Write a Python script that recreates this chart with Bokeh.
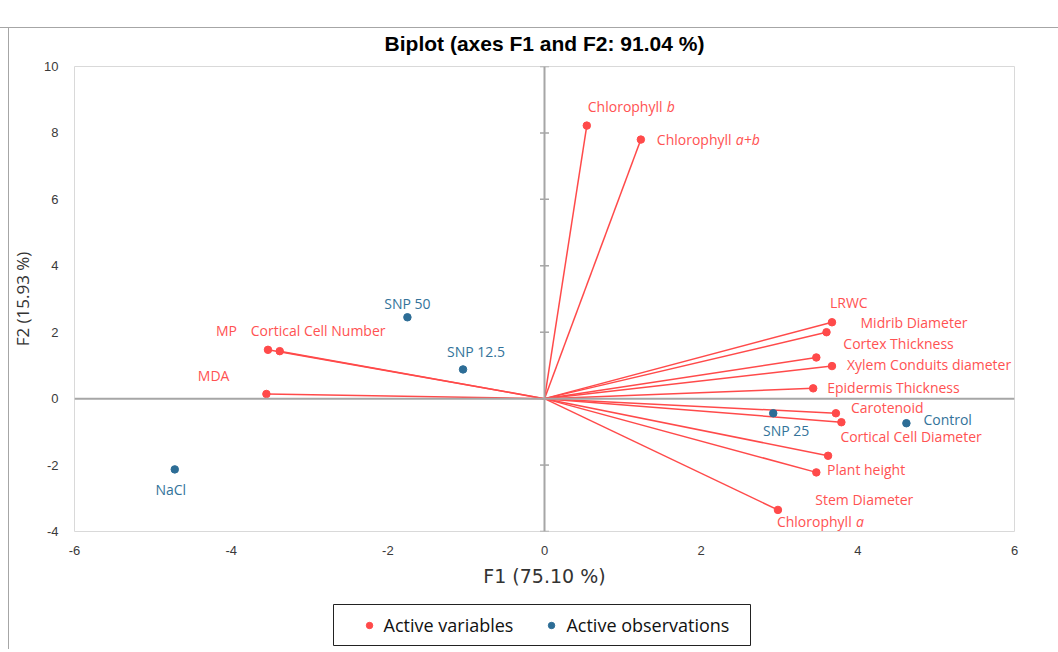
from bokeh.plotting import figure
from bokeh.layouts import column
from bokeh.models import Span, FixedTicker, Legend, LegendItem, ColumnDataSource
from bokeh.core.properties import value
from bokeh.embed import file_html
from bokeh.resources import INLINE

# ---------------- data ----------------
var_names = ["Chlorophyll b", "Chlorophyll a+b", "LRWC", "Midrib Diameter",
             "Cortex Thickness", "Xylem Conduits diameter", "Epidermis Thickness",
             "Carotenoid", "Cortical Cell Diameter", "Plant height", "Stem Diameter",
             "Chlorophyll a", "MP", "Cortical Cell Number", "MDA"]
var_x = [0.54, 1.23, 3.67, 3.60, 3.47, 3.67, 3.43, 3.72, 3.79, 3.62, 3.47, 2.98, -3.53, -3.38, -3.55]
var_y = [8.22, 7.80, 2.30, 2.00, 1.24, 0.98, 0.31, -0.44, -0.71, -1.72, -2.22, -3.35, 1.47, 1.43, 0.14]
var_italic = ["b", "a+b", "", "", "", "", "", "", "", "", "", "a", "", "", ""]

obs_names = ["SNP 50", "SNP 12.5", "NaCl", "SNP 25", "Control"]
obs_x = [-1.75, -1.04, -4.72, 2.92, 4.62]
obs_y = [2.45, 0.88, -2.13, -0.44, -0.74]

x_ticks = [-6, -4, -2, 0, 2, 4, 6]
y_ticks = [-4, -2, 0, 2, 4, 6, 8, 10]

legend_labels = ["Active variables", "Active observations"]

# ---------------- label placement (style) ----------------
var_dx = [1, 16, -2, 34, 27, 15, 14, 15, -1, -1, -1, -1, -31, -29, -37]
var_dy = [-19, 0, -20, -10, -14, -2, -1, -6, 14, 14, 27, 12, -19, -21, -18]
var_align = ["left"] * 12 + ["right", "left", "right"]
obs_dx = [0, 13, -4, 13, 17]
obs_dy = [-14, -18, 20, 17, -4]
obs_align = ["center", "center", "center", "center", "left"]
PREFIX_PX = 79  # approx width of "Chlorophyll " in label font

RED = "#FF4A4A"
RED_TXT = "#FF5252"
BLUE = "#2D6D96"
BLUE_TXT = "#33739A"
LBL_FONT = "Open Sans"
LBL_SIZE = "14px"
FRAME_GRAY = "#A6A6A6"

p = figure(frame_width=940, frame_height=465, x_range=(-6, 6), y_range=(-4, 10),
           output_backend="svg", toolbar_location=None,
           min_border_left=74, min_border_right=44, min_border_top=66, min_border_bottom=69)
p.border_fill_color = None
p.background_fill_color = "#FFFFFF"
# outer chart-area frame (top and left edges), drawn as CSS background lines
p.styles = {"background": (f"linear-gradient({FRAME_GRAY},{FRAME_GRAY}) 0px 27px / 100% 1px no-repeat, "
                           f"linear-gradient({FRAME_GRAY},{FRAME_GRAY}) 8px 27px / 1px 100% no-repeat, #FFFFFF")}

p.title.text = "Biplot (axes F1 and F2: 91.04 %)"
p.title.align = "center"
p.title.text_font = "Liberation Sans"
p.title.text_font_size = "21px"
p.title.text_font_style = "bold"
p.title.text_color = "#000000"
p.title.standoff = 24

p.outline_line_color = "#D9D9D9"
p.outline_line_width = 1
p.xgrid.visible = False
p.ygrid.visible = False

for ax in (p.xaxis[0], p.yaxis[0]):
    ax.axis_line_color = None
    ax.major_tick_line_color = None
    ax.minor_tick_line_color = None
    ax.major_label_text_font = "Liberation Sans"
    ax.major_label_text_font_size = "13px"
    ax.major_label_text_color = "#3A3A3A"
    ax.axis_label_text_font_style = "normal"
    ax.axis_label_text_color = "#333333"
p.xaxis.ticker = FixedTicker(ticks=x_ticks)
p.yaxis.ticker = FixedTicker(ticks=y_ticks)
p.xaxis.major_label_overrides = {t: str(t) for t in x_ticks}
p.yaxis.major_label_overrides = {t: str(t) for t in y_ticks}
p.xaxis.axis_label = "F1 (75.10 %)"
p.yaxis.axis_label = "F2 (15.93 %)"
p.xaxis.axis_label_text_font = "DejaVu Sans"
p.xaxis.axis_label_text_font_size = "19px"
p.yaxis.axis_label_text_font = "Open Sans"
p.yaxis.axis_label_text_font_size = "17px"
p.xaxis.major_label_standoff = 8
p.yaxis.major_label_standoff = 10
p.xaxis.axis_label_standoff = 7
p.yaxis.axis_label_standoff = 7

# axes through origin
p.add_layout(Span(location=0, dimension="height", line_color=FRAME_GRAY, line_width=2))
p.add_layout(Span(location=0, dimension="width", line_color=FRAME_GRAY, line_width=2))
p.scatter(x=[0] * len(y_ticks), y=y_ticks, marker="dash", size=9,
          line_color=FRAME_GRAY, line_width=1.5)

# vectors
n = len(var_x)
p.segment(x0=[0] * n, y0=[0] * n, x1=var_x, y1=var_y, line_color=RED, line_width=1.5)

p.scatter(var_x, var_y, size=7.5, color=RED)
p.scatter(obs_x, obs_y, size=7.5, color=BLUE)

# variable labels
for align in ("left", "right"):
    idx = [i for i in range(n) if var_align[i] == align]
    plain = [var_names[i][:len(var_names[i]) - len(var_italic[i])] if var_italic[i] else var_names[i] for i in idx]
    src = ColumnDataSource(dict(x=[var_x[i] for i in idx], y=[var_y[i] for i in idx], t=plain,
                                dx=[var_dx[i] for i in idx], dy=[var_dy[i] for i in idx]))
    p.text(x="x", y="y", text="t", x_offset="dx", y_offset="dy", source=src,
           text_align=align, text_baseline="middle", text_color=RED_TXT,
           text_font=value(LBL_FONT), text_font_size=LBL_SIZE)

idx = [i for i in range(n) if var_italic[i]]
src_it = ColumnDataSource(dict(x=[var_x[i] for i in idx], y=[var_y[i] for i in idx],
                               t=[var_italic[i] for i in idx],
                               dx=[var_dx[i] + PREFIX_PX for i in idx], dy=[var_dy[i] for i in idx]))
p.text(x="x", y="y", text="t", x_offset="dx", y_offset="dy", source=src_it,
       text_align="left", text_baseline="middle", text_color=RED_TXT,
       text_font=value(LBL_FONT), text_font_size=LBL_SIZE, text_font_style="italic")

# observation labels
for align in ("center", "left"):
    idx = [i for i in range(len(obs_x)) if obs_align[i] == align]
    src = ColumnDataSource(dict(x=[obs_x[i] for i in idx], y=[obs_y[i] for i in idx],
                                t=[obs_names[i] for i in idx],
                                dx=[obs_dx[i] for i in idx], dy=[obs_dy[i] for i in idx]))
    p.text(x="x", y="y", text="t", x_offset="dx", y_offset="dy", source=src,
           text_align=align, text_baseline="middle", text_color=BLUE_TXT,
           text_font=value(LBL_FONT), text_font_size=LBL_SIZE)

# ---------------- legend strip (its frame is the legend box) ----------------
pl = figure(frame_width=417, frame_height=41, x_range=(0, 1), y_range=(0, 1),
            output_backend="svg", toolbar_location=None,
            min_border_left=333, min_border_right=308, min_border_top=4, min_border_bottom=4)
for fig in (p, pl):
    try:
        fig.frame_align = False
    except Exception:
        pass
pl.border_fill_color = None
pl.background_fill_color = "#FFFFFF"
pl.styles = {"background": f"linear-gradient({FRAME_GRAY},{FRAME_GRAY}) 8px 0px / 1px 100% no-repeat, #FFFFFF"}
pl.axis.visible = False
pl.xgrid.visible = False
pl.ygrid.visible = False
pl.outline_line_color = "#222222"
pl.outline_line_width = 1
# legend proxies (kept outside the strip's visible range)
lr_var = pl.scatter(x=[-1], y=[-1], size=6, color=RED)
lr_obs = pl.scatter(x=[-1], y=[-1], size=6, color=BLUE)

legend = Legend(items=[LegendItem(label=legend_labels[0], renderers=[lr_var]),
                       LegendItem(label=legend_labels[1], renderers=[lr_obs])],
                orientation="horizontal", location="center")
legend.border_line_color = None
legend.background_fill_alpha = 0
legend.label_text_font = "Open Sans"
legend.label_text_font_size = "18px"
legend.label_text_color = "#111111"
legend.padding = 4
legend.margin = 0
legend.spacing = 23
legend.glyph_width = 30
legend.glyph_height = 16
legend.label_standoff = 0
pl.add_layout(legend, "center")

open("out.html", "w").write(file_html(column(p, pl, spacing=0), INLINE))
